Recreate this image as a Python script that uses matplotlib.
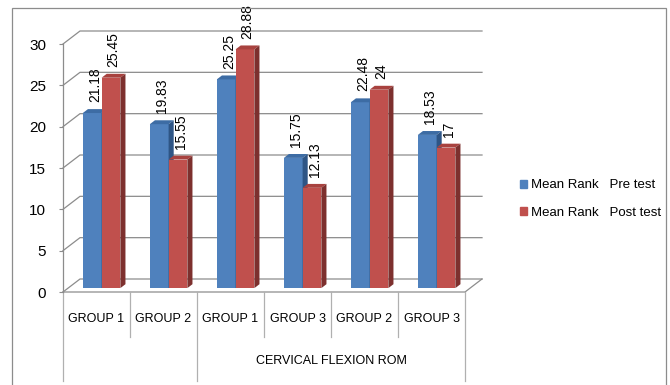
import matplotlib
matplotlib.use("Agg")
import matplotlib.pyplot as plt
from matplotlib.patches import Polygon, Rectangle

plt.rcParams['font.family'] = ['Liberation Sans', 'DejaVu Sans']

# Mean rank of cervical flexion ROM, pairwise group comparisons
categories = ["GROUP 1", "GROUP 2", "GROUP 1", "GROUP 3", "GROUP 2", "GROUP 3"]
pre_test = [21.18, 19.83, 25.25, 15.75, 22.48, 18.53]
post_test = [25.45, 15.55, 28.88, 12.13, 24, 17]
series_names = ["Mean Rank   Pre test", "Mean Rank   Post test"]
group_labels = ["", "CERVICAL FLEXION ROM"]
group_spans = [(0, 2), (2, 6)]
yticks = [0, 5, 10, 15, 20, 25, 30]

# face colours: front, top, side
blue = ("#4F81BD", "#3D6CA4", "#2E5585")
red = ("#C0504D", "#A8423F", "#7D302E")

W, H = 670, 385
fig = plt.figure(figsize=(W / 100, H / 100), dpi=100)
fig.patch.set_facecolor("white")

# frame around the chart
fig.patches.append(Rectangle((12 / W, -0.05), (666 - 12) / W, 1.05 - 8 / H,
                             transform=fig.transFigure, fill=False,
                             edgecolor="#8C8C8C", linewidth=0.9))

ax = fig.add_axes([63 / W, (H - 292) / H, (465 - 63) / W, (292 - 44) / H])
ax.set_xlim(0, 6)
ax.set_ylim(0, 30)
ax.patch.set_alpha(0)

# pseudo-3d depth offset (data units)
px_x = 67.0
px_y = 248.0 / 30
DX = 17 / px_x
DY = 13 / px_y
n = len(categories)
grid_c = "#8C8C8C"

# back wall gridlines with the left wall edges
for v in yticks:
    ax.plot([0, DX, n + DX], [v, v + DY, v + DY], color=grid_c, lw=0.9,
            clip_on=False, zorder=1)
# floor
ax.plot([0, n, n + DX], [0, 0, DY], color=grid_c, lw=0.9, clip_on=False, zorder=1)

# bars
w = 0.28
f0, f1 = 0.3, 0.6
ddx = DX * (f1 - f0)
ddy = DY * (f1 - f0)
for s, (vals, cols) in enumerate([(pre_test, blue), (post_test, red)]):
    for i, v in enumerate(vals):
        x0 = i + 0.5 - w + s * w + DX * f0
        y0 = DY * f0
        ax.bar(x0, v, width=w, bottom=y0, align="edge", color=cols[0],
               linewidth=0, zorder=3 + s, clip_on=False)
        top = [(x0, y0 + v), (x0 + w, y0 + v), (x0 + w + ddx, y0 + v + ddy),
               (x0 + ddx, y0 + v + ddy)]
        side = [(x0 + w, y0), (x0 + w + ddx, y0 + ddy),
                (x0 + w + ddx, y0 + v + ddy), (x0 + w, y0 + v)]
        ax.add_patch(Polygon(top, closed=True, facecolor=cols[1], lw=0,
                             zorder=3 + s, clip_on=False))
        ax.add_patch(Polygon(side, closed=True, facecolor=cols[2], lw=0,
                             zorder=3 + s, clip_on=False))
        ax.annotate(f"{v:g}", xy=(x0 + w / 2 + ddx / 2, y0 + v + ddy),
                    xytext=(0, 5), textcoords="offset points", rotation=90,
                    ha="center", va="bottom", fontsize=10, zorder=6,
                    annotation_clip=False)

# axes styling
for sp in ["top", "right", "bottom"]:
    ax.spines[sp].set_visible(False)
ax.spines["left"].set_color(grid_c)
ax.spines["left"].set_linewidth(0.9)
ax.set_yticks(yticks)
ax.tick_params(axis="y", length=3, color=grid_c, pad=9, labelsize=11)
ax.set_xticks([])

# category axis with two label levels
sep_c = "#B0B0B0"
y_inner = (292 - 337) / px_y
y_outer = (292 - 381) / px_y
outer_edges = {a for a, b in group_spans} | {b for a, b in group_spans}
for k in range(n + 1):
    yb = y_outer if k in outer_edges else y_inner
    ax.plot([k, k], [0, yb], color=sep_c, lw=0.9, clip_on=False, zorder=1)
for i, c in enumerate(categories):
    ax.text(i + 0.5, (292 - 319) / px_y, c, ha="center", va="center", fontsize=9)
for (a, b), g in zip(group_spans, group_labels):
    ax.text((a + b) / 2, (292 - 361) / px_y, g, ha="center", va="center",
            fontsize=9)

# legend
handles = [Rectangle((0, 0), 1, 1, color=blue[0]), Rectangle((0, 0), 1, 1, color=red[0])]
fig.legend(handles, series_names, loc="center left",
           bbox_to_anchor=(508 / W, 1 - 199 / H), frameon=False, fontsize=9.5,
           handlelength=0.55, handleheight=0.55, handletextpad=0.3,
           labelspacing=1.15)

fig.savefig("out.png", dpi=100)
